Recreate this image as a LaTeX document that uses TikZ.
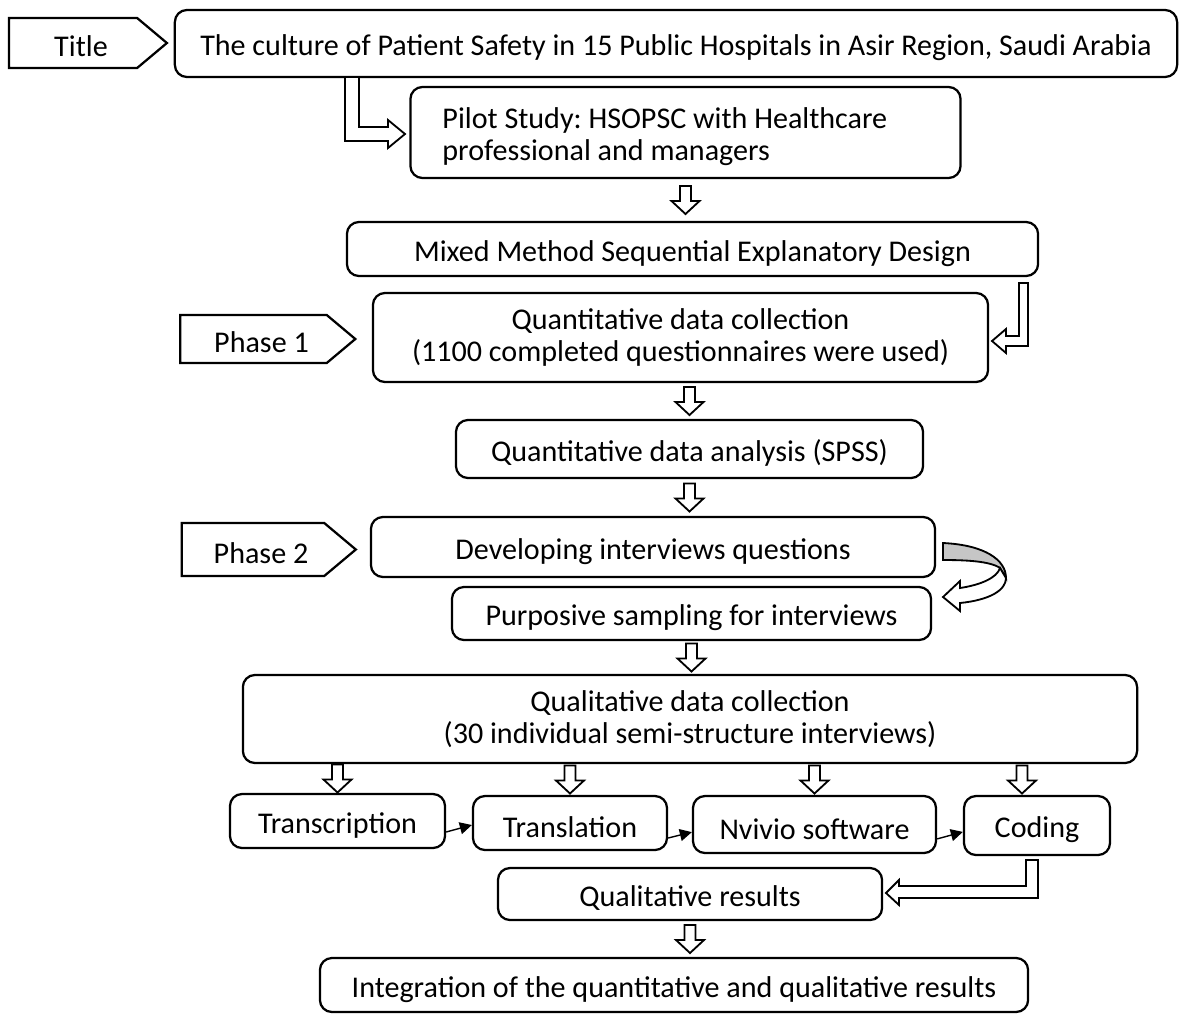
\documentclass[tikz,border=0pt]{standalone}
\usepackage{fontspec}
\setmainfont{Carlito}
\frenchspacing
\usetikzlibrary{shapes.symbols,arrows.meta,calc}

\begin{document}
\begin{tikzpicture}[x=0.025cm, y=-0.025cm, every node/.style={font=\fontsize{21.4}{22.8}\selectfont},
  box/.style={draw,line width=1.6pt,rounded corners=0.3cm,align=center,inner sep=2pt,execute at begin node=\rule{0pt}{21pt}},
  tag/.style={draw,line width=1.6pt,signal,signal to=east,signal pointer angle=80,inner sep=2pt,execute at begin node=\hspace*{0.4cm}\rule{0pt}{20pt}},
  hollow/.style={draw,line width=1.3pt,fill=white,line join=miter},
  link/.style={-{Triangle[length=0.3cm,width=0.3cm]},line width=1pt},
  pics/blockdown/.style={code={\draw[hollow] (-5.5,-14) -- (-5.5,1) -- (-14,1) -- (0,14) -- (14,1) -- (5.5,1) -- (5.5,-14) -- cycle;}}]
\useasboundingbox (0,0) rectangle (1181,1014);
% left tags
\node[tag,minimum width=3.95cm,minimum height=1.25cm] (ttl) at (73,43) {Title};
\node[tag,minimum width=4.375cm,minimum height=1.2cm] (ph1) at (253.5,339) {Phase 1};
\node[tag,minimum width=4.35cm,minimum height=1.325cm] (ph2) at (253,549.5) {Phase 2};
% main column
\node[box,minimum width=25.05cm,minimum height=1.675cm] (title) at (676,43.5) {The culture of Patient Safety in 15 Public Hospitals in Asir Region, Saudi Arabia};
\node[box,minimum width=13.75cm,minimum height=2.275cm,align=flush left,text width=12.15cm] (pilot) at (685.5,132.5) {Pilot Study: HSOPSC with Healthcare\\professional and managers};
\node[box,minimum width=17.275cm,minimum height=1.35cm] (mixed) at (692.5,249) {Mixed Method Sequential Explanatory Design};
\node[box,minimum width=15.375cm,minimum height=2.225cm] (qcoll) at (680.5,337.5) {Quantitative data collection\\(1100 completed questionnaires were used)};
\node[box,minimum width=11.675cm,minimum height=1.45cm] (anal) at (689.5,449) {Quantitative data analysis (SPSS)};
\node[box,minimum width=14.1cm,minimum height=1.5cm] (dev) at (653,547) {Developing interviews questions};
\node[box,minimum width=11.975cm,minimum height=1.325cm] (purp) at (691.5,613.5) {Purposive sampling for interviews};
\node[box,minimum width=22.35cm,minimum height=2.2cm] (qual) at (690,719) {Qualitative data collection\\(30 individual semi-structure interviews)};
% qualitative steps
\node[box,minimum width=5.375cm,minimum height=1.35cm] (trans) at (337.5,821) {Transcription};
\node[box,minimum width=4.85cm,minimum height=1.35cm] (transl) at (570,823) {Translation};
\node[box,minimum width=6.075cm,minimum height=1.425cm] (nviv) at (814.5,824.5) {Nvivio software};
\node[box,minimum width=3.65cm,minimum height=1.475cm] (coding) at (1037,825.5) {Coding};
\node[box,minimum width=9.6cm,minimum height=1.3cm] (qres) at (690,894) {Qualitative results};
\node[box,minimum width=17.7cm,minimum height=1.35cm] (integ) at (674,985) {Integration of the quantitative and qualitative results};
% block arrows down
\pic at ($(pilot.south)!0.5!(pilot.south |- mixed.north)$) {blockdown};
\pic at ($(anal.north |- qcoll.south)!0.5!(anal.north)$) {blockdown};
\pic at ($(anal.south)!0.5!(anal.south |- dev.north)$) {blockdown};
\pic at ($(purp.south)!0.5!(purp.south |- qual.north)$) {blockdown};
\pic at ($(qres.south)!0.5!(qres.south |- integ.north)$) {blockdown};
\foreach \n in {trans,transl,nviv} {\pic at ($(qual.south -| \n.north)!0.5!(\n.north)$) {blockdown};}
\pic at ($(qual.south -| 1022,0)!0.5!(coding.north -| 1022,0)$) {blockdown};
% bent block arrows
\draw[hollow] (345,77) -- (345,141) -- (388,141) -- (388,148) -- (405,134) -- (388,120) -- (388,127) -- (359,127) -- (359,77) -- cycle;
\draw[hollow] (1019,283) -- (1019,336) -- (1006,336) -- (1006,329) -- (992,341) -- (1006,353) -- (1006,346) -- (1028,346) -- (1028,283) -- cycle;
\draw[hollow] (1026,860) -- (1026,886) -- (899,886) -- (899,880) -- (886,893) -- (899,905) -- (899,898) -- (1038,898) -- (1038,860) -- cycle;
% curved arrow dev -> purp
\draw[hollow,fill=gray!45] (943,543) .. controls (985,545) and (1006,560) .. (1006,578) -- (1000,568) .. controls (990,561) and (965,560) .. (943,560) -- cycle;
\draw[hollow] (1000,568) .. controls (997,578) and (980,585) .. (960,588) -- (960,581) -- (943,597) -- (960,611) -- (960,603) .. controls (990,600) and (1006,590) .. (1006,578) -- cycle;
% small links
\draw[link] ([yshift=-0.275cm]trans.east) -- ([yshift=-0.05cm]transl.west);
\draw[link] ([yshift=-0.375cm]transl.east) -- ([yshift=-0.19cm]nviv.west);
\draw[link] ([yshift=-0.36cm]nviv.east) -- ([yshift=-0.16cm]coding.west);
\end{tikzpicture}
\end{document}
